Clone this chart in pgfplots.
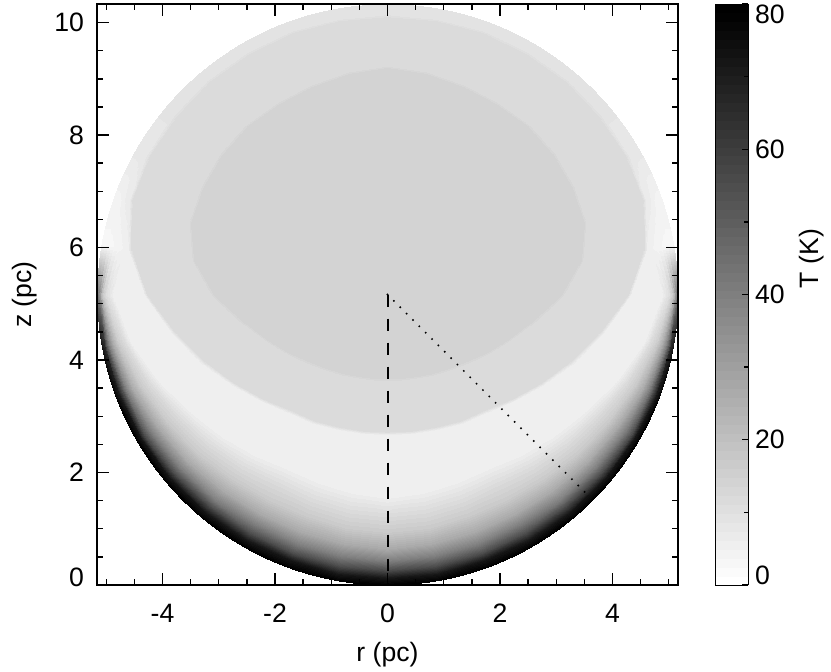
\documentclass[border=0pt]{standalone}
\usepackage{fontspec}
\setmainfont{Liberation Sans}
\usepackage{pgfplots}
\pgfplotsset{compat=1.18}
\usepackage{pgfplotstable}

% temperature on rays from the cloud centre (0,5.165): phi from the downward
% direction (deg), rho (pc), T (K); the left half is the mirror image.
% outermost node sits just past the rim, the plot is clipped to the sphere
\pgfplotstableread[row sep=\\]{
phi rho T\\
0 0 14\\ 0 1.49 14\\ 0 1.55 11.3\\ 0 2.44 11.3\\ 0 2.50 5.3\\ 0 3.58 5.3\\ 0 3.94 12\\ 0 4.23 17\\ 0 4.52 27\\ 0 4.73 40\\ 0 4.90 55\\ 0 5.04 72\\ 0 5.19 80\\
10 0 14\\ 10 1.50 14\\ 10 1.56 11.3\\ 10 2.46 11.3\\ 10 2.52 5.3\\ 10 3.55 5.3\\ 10 3.92 12\\ 10 4.21 17\\ 10 4.50 27\\ 10 4.72 40\\ 10 4.90 55\\ 10 5.04 72\\ 10 5.19 80\\
20 0 14\\ 20 1.54 14\\ 20 1.60 11.3\\ 20 2.51 11.3\\ 20 2.57 5.3\\ 20 3.53 5.3\\ 20 3.90 12\\ 20 4.20 17\\ 20 4.50 27\\ 20 4.72 40\\ 20 4.90 55\\ 20 5.03 72\\ 20 5.19 80\\
30 0 14\\ 30 1.61 14\\ 30 1.67 11.3\\ 30 2.59 11.3\\ 30 2.65 5.3\\ 30 3.54 5.3\\ 30 3.91 12\\ 30 4.21 17\\ 30 4.50 27\\ 30 4.72 40\\ 30 4.90 55\\ 30 5.04 72\\ 30 5.19 80\\
40 0 14\\ 40 1.71 14\\ 40 1.77 11.3\\ 40 2.69 11.3\\ 40 2.75 5.3\\ 40 3.68 5.3\\ 40 4.02 12\\ 40 4.29 17\\ 40 4.56 27\\ 40 4.76 40\\ 40 4.92 55\\ 40 5.05 72\\ 40 5.19 80\\
50 0 14\\ 50 1.85 14\\ 50 1.91 11.3\\ 50 2.89 11.3\\ 50 2.95 5.3\\ 50 3.86 5.3\\ 50 4.16 12\\ 50 4.40 17\\ 50 4.63 27\\ 50 4.81 40\\ 50 4.95 55\\ 50 5.06 72\\ 50 5.19 80\\
60 0 14\\ 60 2.05 14\\ 60 2.11 11.3\\ 60 3.16 11.3\\ 60 3.22 5.3\\ 60 4.08 5.3\\ 60 4.33 12\\ 60 4.53 17\\ 60 4.72 27\\ 60 4.87 40\\ 60 4.99 55\\ 60 5.08 72\\ 60 5.19 80\\
70 0 14\\ 70 2.30 14\\ 70 2.36 11.3\\ 70 3.48 11.3\\ 70 3.54 5.3\\ 70 4.36 5.3\\ 70 4.54 11.9\\ 70 4.69 16.9\\ 70 4.84 26.7\\ 70 4.94 39.6\\ 70 5.03 54.3\\ 70 5.10 71.1\\ 70 5.19 79\\
80 0 14\\ 80 2.65 14\\ 80 2.71 11.3\\ 80 3.84 11.3\\ 80 3.90 5.3\\ 80 4.64 5.3\\ 80 4.76 11.5\\ 80 4.86 16.1\\ 80 4.95 25.2\\ 80 5.02 37.2\\ 80 5.08 51\\ 80 5.12 66.6\\ 80 5.19 74\\
90 0 14\\ 90 3.09 14\\ 90 3.15 11.3\\ 90 4.27 11.3\\ 90 4.33 5.3\\ 90 4.88 5.3\\ 90 4.94 8.1\\ 90 5.00 10.9\\ 90 5.05 16.2\\ 90 5.09 23.3\\ 90 5.12 31.4\\ 90 5.14 40.7\\ 90 5.19 45\\
100 0 14\\ 100 3.49 14\\ 100 3.55 11.3\\ 100 4.63 11.3\\ 100 4.69 6\\ 100 4.76 5.2\\ 100 4.83 4.5\\ 100 4.89 4\\ 100 4.95 3.6\\ 100 5.01 3.4\\ 100 5.06 3.3\\ 100 5.11 3.3\\ 100 5.19 3.3\\
110 0 14\\ 110 3.71 14\\ 110 3.77 11.3\\ 110 4.84 11.3\\ 110 4.90 7\\ 110 4.94 6.6\\ 110 4.98 6\\ 110 5.02 5.5\\ 110 5.05 5\\ 110 5.08 4.7\\ 110 5.11 4.5\\ 110 5.14 4.5\\ 110 5.19 4.5\\
120 0 14\\ 120 3.79 14\\ 120 3.85 11.3\\ 120 4.90 11.3\\ 120 4.96 8\\ 120 4.99 8\\ 120 5.02 8\\ 120 5.05 8\\ 120 5.08 8\\ 120 5.10 8\\ 120 5.12 8\\ 120 5.14 8\\ 120 5.19 8\\
130 0 14\\ 130 3.85 14\\ 130 3.91 11.3\\ 130 4.92 11.3\\ 130 4.98 8.8\\ 130 5.00 8.8\\ 130 5.03 8.8\\ 130 5.06 8.8\\ 130 5.08 8.8\\ 130 5.10 8.8\\ 130 5.12 8.8\\ 130 5.14 8.8\\ 130 5.19 8.8\\
140 0 14\\ 140 3.89 14\\ 140 3.95 11.3\\ 140 4.94 11.3\\ 140 5.00 8.8\\ 140 5.02 8.8\\ 140 5.04 8.8\\ 140 5.06 8.8\\ 140 5.08 8.8\\ 140 5.10 8.8\\ 140 5.12 8.8\\ 140 5.14 8.8\\ 140 5.19 8.8\\
150 0 14\\ 150 3.90 14\\ 150 3.96 11.3\\ 150 4.94 11.3\\ 150 5.00 8.8\\ 150 5.02 8.8\\ 150 5.04 8.8\\ 150 5.06 8.8\\ 150 5.08 8.8\\ 150 5.10 8.8\\ 150 5.12 8.8\\ 150 5.14 8.8\\ 150 5.19 8.8\\
160 0 14\\ 160 3.93 14\\ 160 3.99 11.3\\ 160 4.94 11.3\\ 160 5.00 8.8\\ 160 5.02 8.8\\ 160 5.04 8.8\\ 160 5.06 8.8\\ 160 5.08 8.8\\ 160 5.10 8.8\\ 160 5.12 8.8\\ 160 5.14 8.8\\ 160 5.19 8.8\\
170 0 14\\ 170 3.98 14\\ 170 4.04 11.3\\ 170 4.94 11.3\\ 170 5.00 8.8\\ 170 5.02 8.8\\ 170 5.04 8.8\\ 170 5.06 8.8\\ 170 5.08 8.8\\ 170 5.10 8.8\\ 170 5.12 8.8\\ 170 5.14 8.8\\ 170 5.19 8.8\\
180 0 14\\ 180 4.02 14\\ 180 4.08 11.3\\ 180 4.94 11.3\\ 180 5.00 8.8\\ 180 5.02 8.8\\ 180 5.04 8.8\\ 180 5.06 8.8\\ 180 5.08 8.8\\ 180 5.10 8.8\\ 180 5.12 8.8\\ 180 5.14 8.8\\ 180 5.19 8.8\\
}\tempdata

\pgfplotsset{
  colormap={wb}{gray(0cm)=(1); gray(1cm)=(0)},
  colormap={wbsteps}{samples of colormap=(65 of wb)},
  every axis/.append style={font=\fontsize{13.3}{16}\selectfont},
}

\begin{document}
\begin{tikzpicture}
\begin{axis}[
    name=ax,
    scale only axis,
    width=290.5pt, height=290.5pt,
    xmin=-5.165, xmax=5.165,
    ymin=0, ymax=10.33,
    axis line style={line width=1pt},
    every tick/.style={black, line width=0.7pt},
    major tick length=5.8pt, minor tick length=3pt,
    tick align=inside,
    xtick={-4,-2,0,2,4}, xticklabels={-4,-2,0,2,4},
    minor xtick={-5,-4.5,...,5},
    ytick={0,2,4,6,8,10},
    yticklabels={{\raisebox{4pt}[\height][\depth]{0}},2,4,6,8,10},
    minor ytick={0.5,1,...,10},
    xticklabel style={yshift=-6pt},
    yticklabel style={xshift=-3pt},
    xlabel={r (pc)}, ylabel={z (pc)},
    xlabel style={at={(axis description cs:0.5,-0.1205)}, anchor=center},
    ylabel style={at={(axis description cs:-0.124,0.5)}, anchor=center},
    axis on top,
    colormap name=wbsteps,
    colormap access=piecewise constant,
    point meta min=0, point meta max=80,
    colorbar right,
    colorbar shift/.style={xshift=18.5pt},
    colorbar style={
        at={(parent axis.north east)}, anchor=north west,
        width=16.5pt,
        axis line style={line width=0.5pt},
        ytick={0,20,40,60,80},
        yticklabels={{\raisebox{5pt}[\height][\depth]{0}},20,40,60,{\raisebox{-5pt}[\height][\depth]{80}}},
        minor ytick={10,30,50,70},
        ytick pos=right,
        tick align=inside,
        major tick length=3pt, minor tick length=2pt,
        ylabel={T (K)},
        ylabel style={at={(axis description cs:2.94,0.562)}, anchor=center},
    },
]
\begin{scope}
\clip (axis cs:0,5.165) circle [radius=5.165];
\addplot[surf, shader=interp, mesh/rows=19, mesh/cols=13, point meta=explicit]
    table[x expr={\thisrow{rho}*sin(\thisrow{phi})},
          y expr={5.165-\thisrow{rho}*cos(\thisrow{phi})},
          meta=T] {\tempdata};
\addplot[surf, shader=interp, mesh/rows=19, mesh/cols=13, point meta=explicit]
    table[x expr={-\thisrow{rho}*sin(\thisrow{phi})},
          y expr={5.165-\thisrow{rho}*cos(\thisrow{phi})},
          meta=T] {\tempdata};
\end{scope}
\addplot[black, line width=1pt, dash pattern=on 6.3pt off 5.7pt]
    coordinates {(0,5.165) (0,0)};
\addplot[black, line width=1.1pt, line cap=round, dash pattern=on 0pt off 4.5pt]
    coordinates {(0,5.165) (3.58,1.58)};
\end{axis}
\pgfresetboundingbox
\path[use as bounding box] ([xshift=-48.5pt,yshift=-43.25pt]ax.south west)
    rectangle ([xshift=76.5pt,yshift=2pt]ax.north east);
\end{tikzpicture}
\end{document}
